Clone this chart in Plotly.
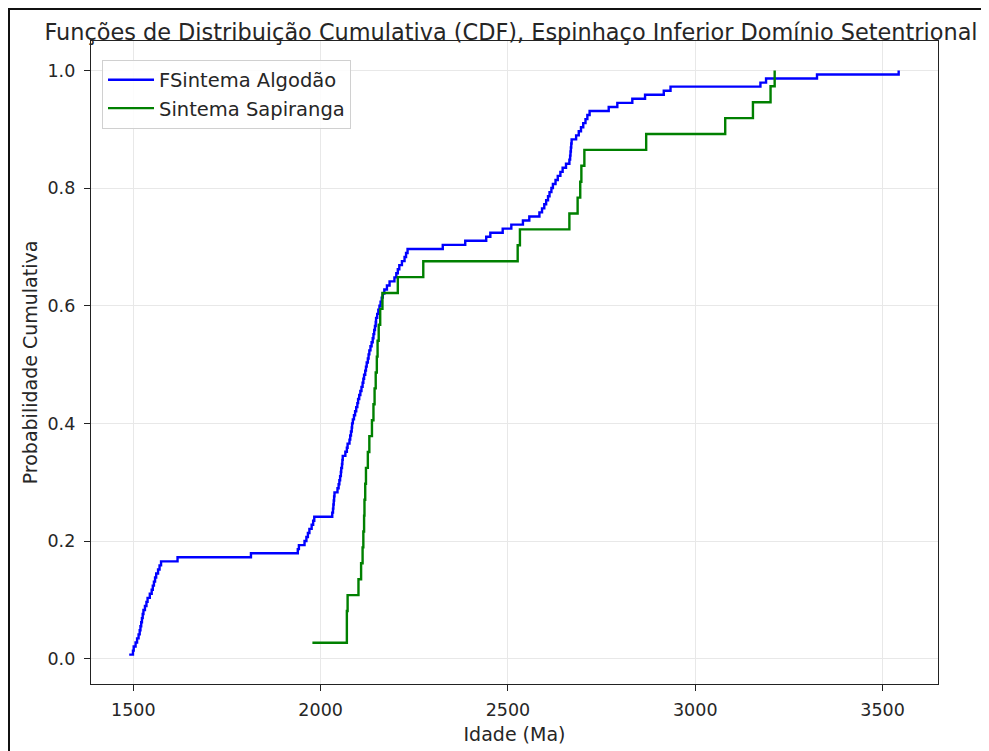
import numpy as np
import plotly.graph_objects as go

# Sorted ages (Ma)
algodao_ages = [
    1489, 1499, 1501, 1506, 1510, 1514, 1517, 1519, 1521, 1523,
    1525, 1527, 1531, 1535, 1538, 1544, 1549, 1552, 1555, 1558,
    1561, 1566, 1570, 1574, 1618, 1814, 1939, 1942, 1957, 1962,
    1966, 1970, 1976, 1980, 1983, 2031, 2033, 2034, 2035, 2036,
    2037, 2045, 2048, 2050, 2052, 2054, 2055, 2057, 2058, 2059,
    2066, 2070, 2072, 2077, 2079, 2081, 2083, 2084, 2086, 2089,
    2092, 2095, 2098, 2100, 2103, 2106, 2109, 2112, 2114, 2116,
    2119, 2121, 2123, 2126, 2128, 2130, 2133, 2136, 2139, 2141,
    2143, 2145, 2147, 2148, 2151, 2154, 2157, 2160, 2163, 2166,
    2170, 2177, 2184, 2197, 2202, 2206, 2210, 2217, 2224, 2228,
    2232, 2326, 2386, 2442, 2453, 2486, 2509, 2540, 2557, 2584,
    2591, 2597, 2602, 2607, 2611, 2616, 2620, 2627, 2633, 2640,
    2646, 2655, 2664, 2666, 2667, 2668, 2669, 2670, 2682, 2689,
    2695, 2701, 2707, 2712, 2718, 2769, 2792, 2832, 2866, 2916,
    2934, 3174, 3189, 3325, 3543,
]

sapiranga_ages = [
    1978, 2070, 2070, 2072, 2101, 2108, 2112, 2114, 2116, 2117,
    2119, 2121, 2126, 2130, 2137, 2141, 2144, 2147, 2150, 2152,
    2155, 2159, 2165, 2206, 2274, 2526, 2532, 2664, 2686, 2693,
    2696, 2704, 2869, 3080, 3154, 3201, 3212,
]

series_names = ["FSintema Algodão", "Sintema Sapiranga"]
series_colors = ["blue", "green"]

x_ticks = [1500, 2000, 2500, 3000, 3500]
y_ticks = [0.0, 0.2, 0.4, 0.6, 0.8, 1.0]

title_text = "Funções de Distribuição Cumulativa (CDF), Espinhaço Inferior Domínio Setentrional"
x_title = "Idade (Ma)"
y_title = "Probabilidade Cumulativa"


def ecdf(values):
    xs = np.sort(np.asarray(values, dtype=float))
    ys = np.arange(1, len(xs) + 1) / len(xs)
    return xs, ys


fig = go.Figure()
for i, (vals, name, color) in enumerate(zip([algodao_ages, sapiranga_ages], series_names, series_colors)):
    xs, ys = ecdf(vals)
    fig.add_trace(go.Scatter(
        x=xs, y=ys, mode="lines", name=name, legendgroup=f"g{i}",
        line=dict(color=color, width=2.4, shape="hv"),
    ))

FONT = "DejaVu Sans, Verdana, sans-serif"
TXT = "#262626"
axis_common = dict(
    showline=True, linecolor="#222", linewidth=1.4, mirror=True,
    ticks="outside", ticklen=6, tickwidth=1.3, tickcolor="#222",
    showgrid=True, gridcolor="#e8e8e8", gridwidth=1.2,
    zeroline=False, automargin=False,
    tickfont=dict(family=FONT, size=17.5, color=TXT),
)

# figure sits inside the page body (8px margin); sizes chosen so plot area
# lands at x 91..938, y 41..684 of the window
W, H = 981, 743
L, T = 83, 33
R = W - (938 - 8)
B = H - (684 - 8)

fig.update_layout(
    width=W, height=H,
    margin=dict(l=L, r=R, t=T, b=B, autoexpand=False),
    paper_bgcolor="white", plot_bgcolor="white",
    font=dict(family=FONT, color=TXT),
    title=dict(text=title_text, xref="paper", x=(511 - 91) / 847, xanchor="center",
               yref="container", y=1 - 24 / H, yanchor="middle",
               font=dict(family=FONT, size=22.4, color=TXT)),
    xaxis=dict(range=[1387, 3648], tickvals=x_ticks,
               ticktext=[str(v) for v in x_ticks], ticklabelstandoff=4,
               title=dict(text=x_title, font=dict(family=FONT, size=19, color=TXT), standoff=8),
               **axis_common),
    yaxis=dict(range=[-0.043, 1.05], tickvals=y_ticks,
               ticktext=[f"{v:.1f}" for v in y_ticks], ticklabelstandoff=5,
               title=dict(text=y_title, font=dict(family=FONT, size=19, color=TXT), standoff=4),
               **axis_common),
    legend=dict(x=0.013, y=0.971, xanchor="left", yanchor="top",
                bgcolor="rgba(255,255,255,0.85)", bordercolor="#d0d0d0", borderwidth=1,
                font=dict(family=FONT, size=19.5, color=TXT),
                traceorder="grouped", tracegroupgap=0, itemwidth=46),
    showlegend=True,
)

# outer frame around the figure (as in the reference screenshot)
pw, ph = W - L - R, H - T - B
fig.add_shape(type="rect", xref="paper", yref="paper",
              x0=(1 - L) / pw, x1=(W + 20 - L) / pw,
              y0=-(B + 20) / ph, y1=1 + (T - 1) / ph,
              line=dict(color="#111", width=2), fillcolor="rgba(0,0,0,0)",
              layer="below")

fig.write_html("out.html")
